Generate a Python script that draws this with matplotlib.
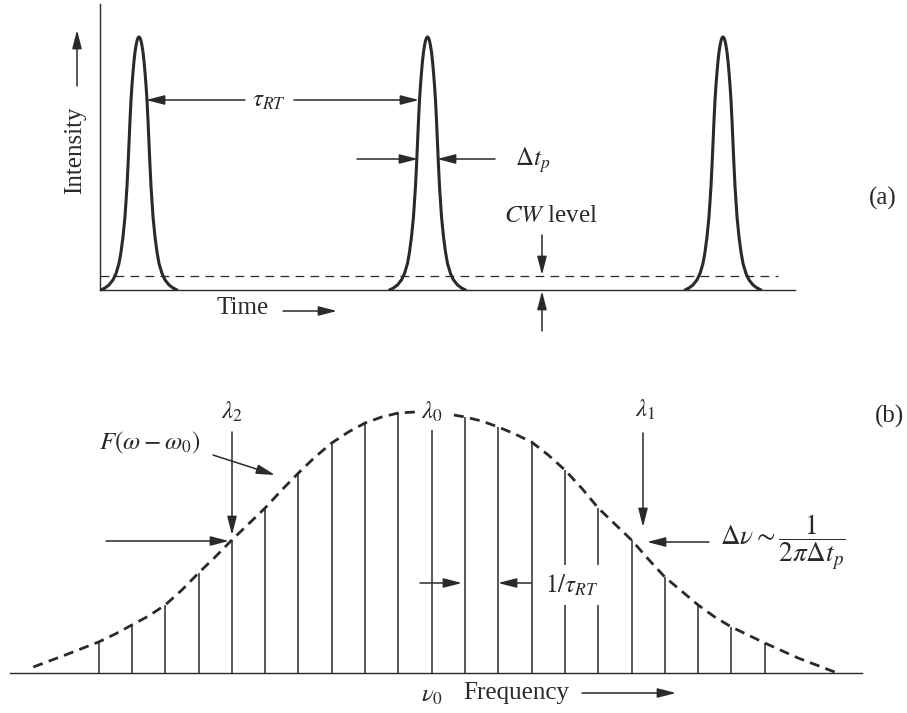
import numpy as np
import matplotlib
matplotlib.use('Agg')
import matplotlib.pyplot as plt

plt.rcParams['font.family'] = ['Liberation Serif', 'DejaVu Serif']
plt.rcParams['mathtext.fontset'] = 'stix'

ink = '#2a2a2a'
W, H = 907, 713

# (a) pulse train -- time measured from the intensity axis (arbitrary units)
pulse_centers = [39, 327.5, 623]
pulse_peak = 0.885
# half profile of one pulse (offset from centre, fraction of peak)
half_offsets = [0, 1, 2, 3, 4, 5, 6, 7, 8, 9, 10, 11, 12, 14, 16, 18, 20, 23, 26, 30, 34, 38]
half_shape = [1.0, 0.996, 0.985, 0.965, 0.94, 0.905, 0.86, 0.81, 0.75, 0.67, 0.58, 0.49,
              0.41, 0.29, 0.21, 0.15, 0.105, 0.065, 0.04, 0.02, 0.008, 0.0]
cw_level = 0.05
cw_end = 678
time_max = 695

# (b) longitudinal mode comb, frequency in units of 1/tau_RT from nu_0
mode_index = list(range(-10, 11))
mode_height = [31, 48, 68, 100, 133, 165, 200, 230, 250, 260, 260,
               256, 246, 231, 203, 165, 133, 96, 68, 46, 30]
env_x = [-11.96, -11, -10, -9.5, -9, -8.5, -8, -7.5, -7, -6.5, -6, -5.5, -5, -4.5, -4,
         -3.5, -3, -2.5, -2, -1.5, -1, -0.5, 0, 0.5, 1, 1.5, 2, 2.5, 3, 3.5, 4, 4.5,
         5, 5.5, 6, 6.5, 7, 7.5, 8, 8.5, 9, 9.5, 10, 11, 12.1]
env_y = [6, 18, 31, 39, 48, 57, 68, 83, 100, 116, 133, 149, 165, 183, 200,
         216, 230, 241, 250, 256, 260, 261, 260, 259, 256, 252, 246, 239, 231, 218, 203, 185,
         165, 149, 133, 114, 96, 82, 68, 56, 46, 38, 30, 15, 1]

fig = plt.figure(figsize=(W / 100, H / 100), dpi=100)

# ---- panel (a)
ax1 = fig.add_axes([100 / W, (H - 290) / H, 695 / W, 286 / H])
off = np.array(half_offsets, dtype=float)
shp = np.array(half_shape)
px = np.concatenate([-off[::-1], off[1:]])
py = np.concatenate([shp[::-1], shp[1:]]) * pulse_peak
for c in pulse_centers:
    ax1.plot(c + px, py, color=ink, lw=2.2, solid_capstyle='round')
ax1.plot([0, cw_end], [cw_level, cw_level], color=ink, lw=0.9, ls=(0, (7, 5)))
ax1.set_xlim(0, time_max)
ax1.set_ylim(0, 1)
for s in ['top', 'right']:
    ax1.spines[s].set_visible(False)
for s in ['left', 'bottom']:
    ax1.spines[s].set_linewidth(1.0)
    ax1.spines[s].set_color(ink)
ax1.set_xticks([])
ax1.set_yticks([])
ax1.patch.set_alpha(0)

# ---- panel (b)
ax2 = fig.add_axes([10 / W, (H - 673) / H, 852 / W, 273 / H])
ax2.vlines(mode_index, 0, mode_height, color=ink, lw=1.1)
ax2.plot(env_x, env_y, color=ink, lw=2.0, ls=(0, (3.6, 2.3)))
ax2.set_xlim(-12.66, 12.92)
ax2.set_ylim(0, 273)
for s in ['top', 'right', 'left']:
    ax2.spines[s].set_visible(False)
ax2.spines['bottom'].set_linewidth(1.0)
ax2.spines['bottom'].set_color(ink)
ax2.set_xticks([])
ax2.set_yticks([])
ax2.patch.set_alpha(0)

# ---- annotations in pixel coordinates
ann = fig.add_axes([0, 0, 1, 1])
ann.set_xlim(0, W)
ann.set_ylim(H, 0)
ann.axis('off')

fs = 18


def arrow(x0, y0, x1, y1):
    ann.annotate('', xy=(x1, y1), xytext=(x0, y0),
                 arrowprops=dict(arrowstyle='-|>,head_length=0.7,head_width=0.18',
                                 mutation_scale=16, lw=1.1, color=ink,
                                 shrinkA=0, shrinkB=0))


# (a)
ann.text(75, 150, 'Intensity', rotation=90, ha='center', va='center', fontsize=fs, color=ink)
arrow(77, 86, 77, 30)
ann.text(243, 308, 'Time', ha='center', va='center', fontsize=fs, color=ink)
arrow(283, 311, 337, 311)
arrow(245, 100, 146, 100)
arrow(294, 100, 419, 100)
ann.text(269, 101, r'$\tau_{RT}$', ha='center', va='center', fontsize=fs, color=ink)
arrow(357, 159, 418, 159)
arrow(495, 159, 437, 159)
ann.text(515, 160, r'$\Delta t_p$', ha='left', va='center', fontsize=fs, color=ink)
ann.text(551, 216, r'$CW$ level', ha='center', va='center', fontsize=fs, color=ink)
arrow(542, 235, 542, 275)
arrow(542, 331, 542, 291)
ann.text(883, 198, '(a)', ha='center', va='center', fontsize=fs, color=ink)

# (b)
ann.text(232, 412, r'$\lambda_2$', ha='center', va='center', fontsize=fs, color=ink)
arrow(232, 432, 232, 535)
ann.text(150, 443, r'$F(\omega-\omega_0)$', ha='center', va='center', fontsize=fs, color=ink)
arrow(213, 455, 275, 475)
arrow(106, 541, 229, 541)
ann.text(432, 412, r'$\lambda_0$', ha='center', va='center', fontsize=fs, color=ink,
         bbox=dict(boxstyle='square,pad=0.22', fc='white', ec='none'))
ann.text(645, 410, r'$\lambda_1$', ha='center', va='center', fontsize=fs, color=ink)
arrow(643, 433, 643, 527)
arrow(709, 542, 647, 542)
ann.text(720, 542, r'$\Delta\nu \sim \dfrac{1}{2\pi\Delta t_p}$', ha='left', va='center',
         fontsize=19.5, color=ink)
arrow(420, 583, 462, 583)
arrow(531, 583, 498, 583)
ann.text(545, 585, r'$1/\tau_{RT}$', ha='left', va='center', fontsize=fs, color=ink,
         bbox=dict(boxstyle='square,pad=0.3', fc='white', ec='none'))
ann.text(432, 696, r'$\nu_0$', ha='center', va='center', fontsize=fs, color=ink)
ann.text(516, 693, 'Frequency', ha='center', va='center', fontsize=fs, color=ink)
arrow(582, 693, 676, 693)
ann.text(890, 416, '(b)', ha='center', va='center', fontsize=fs, color=ink)

fig.savefig('out.png', dpi=100)
